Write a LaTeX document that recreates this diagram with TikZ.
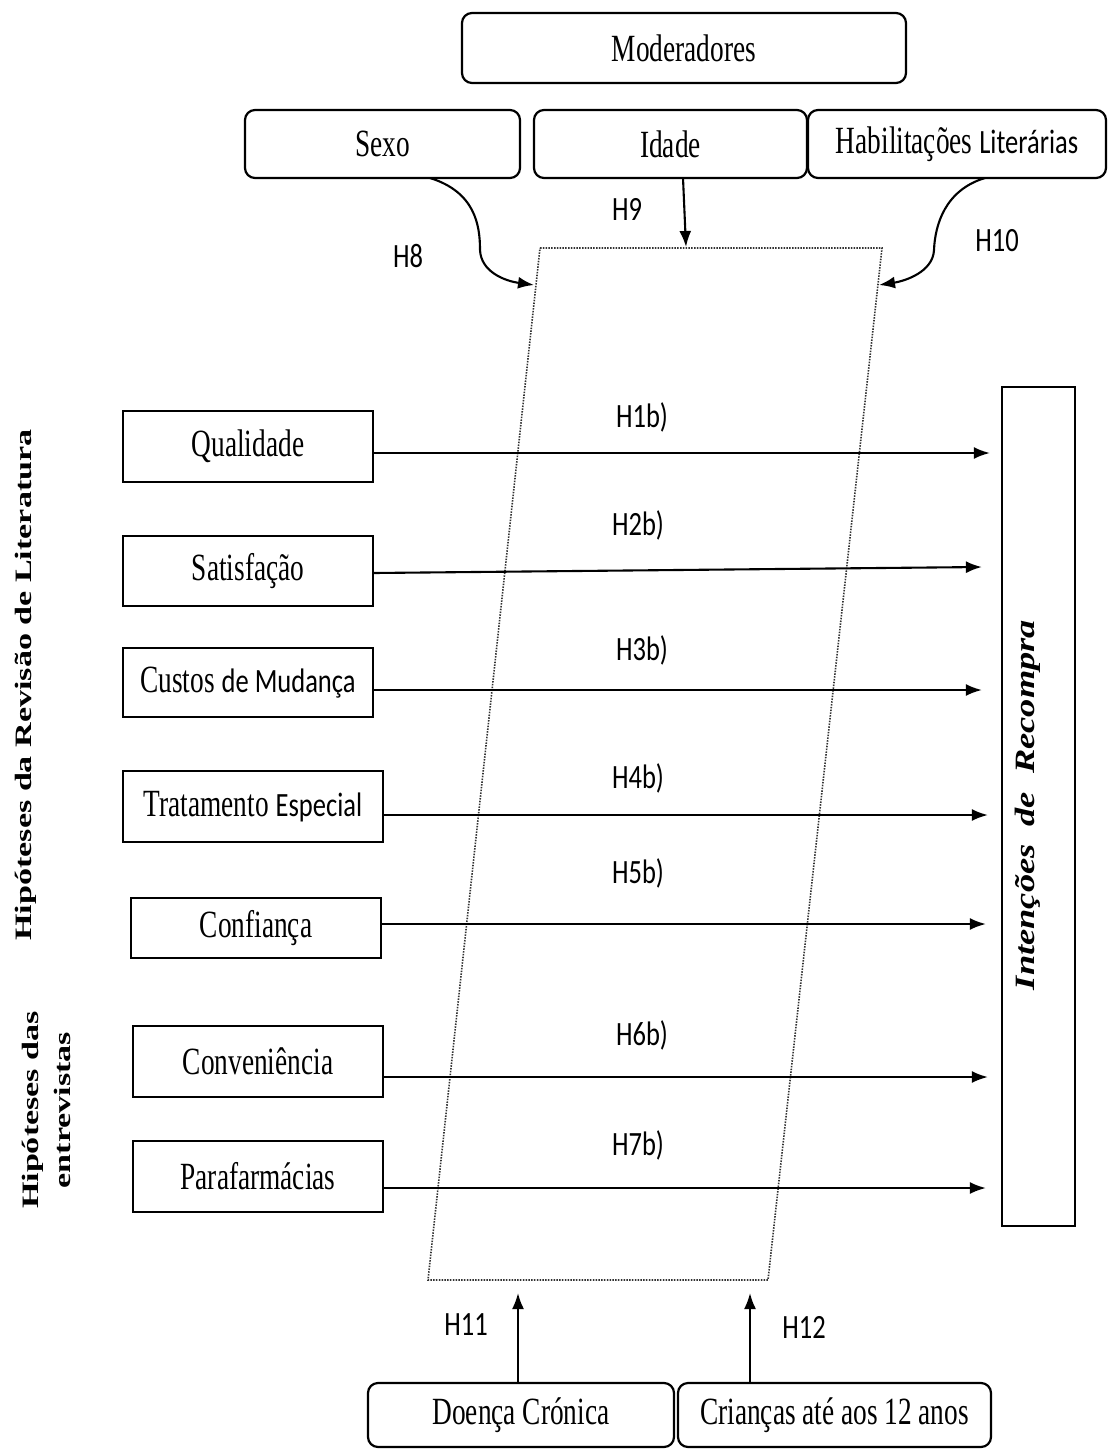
\documentclass[tikz,border=0pt]{standalone}
\usepackage{fontspec}
\usepackage{graphicx}
\setmainfont{Liberation Serif}
\newfontfamily\tnr[FakeStretch=0.71]{Liberation Serif}
\newfontfamily\calf[FakeStretch=0.78]{Carlito}
\newfontfamily\rotf[FakeStretch=1.45]{Liberation Serif}
\newfontfamily\rotg[FakeStretch=1.3]{Liberation Serif}
\newcommand\cpart[1]{{\calf\fontsize{34}{38}\selectfont #1}}
\usetikzlibrary{arrows.meta,calc}
\tikzset{
  box/.style={draw, line width=2.2pt, inner sep=0pt, align=center,
    font=\tnr\fontsize{38.5}{42}\selectfont},
  rbox/.style={box, rounded corners=10pt},
  arr/.style={line width=2.1pt, -{Latex[length=16pt,width=12pt]}},
  hl/.style={inner sep=0pt, font=\calf\fontsize{34}{38}\selectfont},
  dotline/.style={line width=1.6pt, dash pattern=on 1.5pt off 1.3pt, black!80},
}
\begin{document}
\begin{tikzpicture}[x=1pt,y=-1pt]
\fill[white] (0,0) rectangle (1111,1450);
\useasboundingbox (0,0) rectangle (1111,1450);

% moderators
\node[rbox, minimum width=444pt, minimum height=70pt] (mod) at (684,48) {Moderadores};
\node[rbox, minimum width=275pt, minimum height=68pt] (sexo) at (382.5,144) {Sexo};
\node[rbox, minimum width=273pt, minimum height=68pt] (idade) at (670.5,144) {Idade};
\node[rbox, minimum width=298pt, minimum height=68pt] (habil) at (957,144) {Habilitações \cpart{Literárias}};

% parallelogram
\coordinate (pTL) at (540,248);
\coordinate (pTR) at (882,248);
\coordinate (pBR) at (768,1280);
\coordinate (pBL) at (428,1280);
\draw[dotline] (pTL) -- (pTR) -- (pBR) -- (pBL) -- cycle;

% moderator arrows
\coordinate (s8) at (430,178);
\coordinate (h8t) at (534,285);
\coordinate (s9) at (683,178);
\coordinate (h9t) at (686,247);
\coordinate (s10) at (985,178);
\coordinate (h10t) at (879,285);
\draw[arr] (s8) .. controls (475,192) and (480,225) .. (480,250)
  .. controls (481,272) and (505,281) .. (h8t);
\draw[arr] (s9) -- (h9t);
\draw[arr] (s10) .. controls (945,190) and (935,225) .. (934,250)
  .. controls (933,272) and (905,281) .. (h10t);
\node[hl] (lh8) at (408,256) {H8};
\node[hl] (lh9) at (627,209) {H9};
\node[hl] (lh10) at (997,241) {H10};

% outcome
\node[draw, line width=2.2pt, minimum width=73pt, minimum height=839pt, inner sep=0pt] (intent) at (1038.5,806.5) {};
\node[rotate=90, inner sep=0pt, font=\rotg\bfseries\itshape\fontsize{28}{32}\selectfont] (intentlbl) at (1028,805) {Intenções~~de~~Recompra};

% predictors
\node[box, minimum width=250pt, minimum height=71pt] (qual) at (248,446.5) {Qualidade};
\node[box, minimum width=250pt, minimum height=70pt] (satis) at (248,571) {Satisfação};
\node[box, minimum width=250pt, minimum height=69pt] (custos) at (248,682.5) {Custos \cpart{de Mudança}};
\node[box, minimum width=260pt, minimum height=71pt] (trat) at (253,806.5) {Tratamento \cpart{Especial}};
\node[box, minimum width=250pt, minimum height=60pt] (conf) at (256,928) {Confiança};
\node[box, minimum width=250pt, minimum height=71pt] (conv) at (258,1061.5) {Conveniência};
\node[box, minimum width=250pt, minimum height=71pt] (para) at (258,1176.5) {Parafarmácias};

\draw[arr] ([yshift=-6.5pt]qual.east) coordinate (a1) -- ($(a1 -| intent.west)+(-11,0)$);
\draw[arr] ([yshift=-2pt]satis.east) coordinate (a2) -- ($(a2 -| intent.west)+(-19,-6)$);
\draw[arr] ([yshift=-7.5pt]custos.east) coordinate (a3) -- ($(a3 -| intent.west)+(-19,0)$);
\draw[arr] ([yshift=-8.5pt]trat.east) coordinate (a4) -- ($(a4 -| intent.west)+(-13,0)$);
\draw[arr] ([yshift=4pt]conf.east) coordinate (a5) -- ($(a5 -| intent.west)+(-15,0)$);
\draw[arr] ([yshift=-15.5pt]conv.east) coordinate (a6) -- ($(a6 -| intent.west)+(-13,0)$);
\draw[arr] ([yshift=-11.5pt]para.east) coordinate (a7) -- ($(a7 -| intent.west)+(-15,0)$);

\node[hl] (l1) at (642,417) {H1b)};
\node[hl] (l2) at (638,525) {H2b)};
\node[hl] (l3) at (642,650) {H3b)};
\node[hl] (l4) at (638,778) {H4b)};
\node[hl] (l5) at (638,873) {H5b)};
\node[hl] (l6) at (642,1035) {H6b)};
\node[hl] (l7) at (638,1145) {H7b)};

% side labels
\node[rotate=90, inner sep=0pt, font=\rotf\bfseries\fontsize{23.5}{28}\selectfont] (side1) at (26,685) {Hipóteses da Revisão de Literatura};
\node[rotate=90, inner sep=0pt, align=center, font=\rotf\bfseries\fontsize{23.5}{32}\selectfont] (side2) at (46,1110) {Hipóteses das\\entrevistas};

% bottom moderators
\node[rbox, minimum width=306pt, minimum height=64pt] (doenca) at (521,1415) {Doença Crónica};
\node[rbox, minimum width=313pt, minimum height=64pt] (criancas) at (834.5,1415) {Crianças até aos 12 anos};
\coordinate (s11) at (518,1383);
\coordinate (h11t) at (518,1293);
\coordinate (s12) at (750,1383);
\coordinate (h12t) at (750,1293);
\draw[arr] (s11) -- (h11t);
\draw[arr] (s12) -- (h12t);
\node[hl] (lh11) at (466,1325) {H11};
\node[hl] (lh12) at (804,1327) {H12};
\end{tikzpicture}
\end{document}
